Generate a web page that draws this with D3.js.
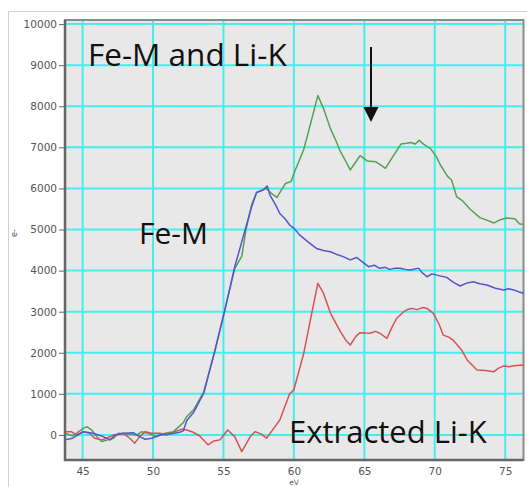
<!DOCTYPE html>
<html>
<head>
<meta charset="utf-8">
<script src="https://cdn.jsdelivr.net/npm/d3@7"></script>
<style>
	body { margin: 0; background: #fff; }
	svg { display: block; }
</style>
</head>
<body>
<script>
// spectra: [eV, counts]
const feMLiK = [
	[43.75, 40], [44.3, -25], [45.05, 160], [45.3, 200], [45.65, 120], [46.0, -40], [46.35, -160],
	[46.8, -120], [47.2, -80], [47.55, 40], [48.1, 25], [48.85, 0], [49.2, 80], [49.65, 40],
	[50.25, -40], [50.85, 40], [51.45, 80], [51.8, 190], [52.15, 300], [52.4, 450], [52.9, 620],
	[53.6, 1050], [54.4, 2050], [55.1, 3050], [55.8, 4050], [56.3, 4350], [56.6, 5000], [57.0, 5600],
	[57.35, 5900], [57.7, 5950], [58.05, 6000], [58.4, 5880], [58.8, 5780], [59.0, 5900], [59.4, 6120],
	[59.8, 6170], [60.1, 6450], [60.7, 6950], [61.2, 7600], [61.7, 8260], [62.1, 7950], [62.6, 7450],
	[63.0, 7150], [63.3, 6900], [63.7, 6650], [64.0, 6450], [64.4, 6650], [64.7, 6800], [65.2, 6670],
	[65.8, 6650], [66.2, 6560], [66.5, 6490], [67.0, 6760], [67.6, 7080], [68.0, 7100], [68.3, 7120],
	[68.6, 7080], [68.9, 7170], [69.2, 7080], [69.7, 6970], [70.1, 6780], [70.4, 6570], [70.9, 6300],
	[71.2, 6200], [71.55, 5800], [72.0, 5690], [72.5, 5500], [73.2, 5290], [73.6, 5240], [74.2, 5160],
	[74.6, 5230], [75.1, 5280], [75.7, 5260], [76.0, 5140], [76.3, 5120]
];

const feM = [
	[43.75, -120], [44.3, -80], [45.05, 80], [45.75, 40], [46.45, -40], [46.95, -120], [47.3, 0],
	[47.9, 40], [48.6, 55], [49.05, -40], [49.45, -105], [49.9, -80], [50.5, 0], [51.2, 25],
	[51.9, 65], [52.15, 100], [52.4, 350], [52.9, 560], [53.6, 1015], [54.4, 2070], [55.1, 3040],
	[55.8, 4095], [56.4, 4825], [57.0, 5555], [57.35, 5900], [57.8, 5960], [58.1, 6060], [58.3, 5840],
	[58.7, 5600], [59.0, 5390], [59.4, 5250], [59.7, 5110], [60.0, 5030], [60.4, 4870], [61.0, 4700],
	[61.6, 4540], [62.1, 4490], [62.6, 4460], [63.0, 4400], [63.5, 4340], [64.0, 4260], [64.45, 4320],
	[64.9, 4200], [65.3, 4095], [65.7, 4130], [66.1, 4055], [66.5, 4080], [66.8, 4030], [67.2, 4060],
	[67.55, 4055], [67.9, 4030], [68.25, 4015], [68.85, 4060], [69.1, 3950], [69.45, 3850], [69.8, 3920],
	[70.15, 3890], [70.5, 3860], [70.85, 3835], [71.3, 3720], [71.8, 3625], [72.3, 3700], [72.75, 3730],
	[73.2, 3680], [73.7, 3650], [74.3, 3570], [74.9, 3530], [75.25, 3560], [75.6, 3530], [76.0, 3480],
	[76.3, 3450]
];

const liK = [
	[43.75, 80], [44.2, 80], [44.55, 0], [45.05, 80], [45.5, 40], [45.85, -80], [46.35, -120],
	[46.7, -80], [47.2, 0], [47.9, 40], [48.35, -80], [48.7, -200], [49.05, -40], [49.45, 80],
	[49.9, 40], [50.5, 40], [50.95, 0], [51.55, 80], [52.05, 140], [52.4, 120], [52.85, 65],
	[53.3, -20], [53.9, -240], [54.3, -150], [54.75, -120], [55.3, 120], [55.8, -40], [56.3, -405],
	[56.9, -40], [57.25, 80], [57.7, 20], [58.05, -80], [58.4, 80], [59.0, 365], [59.7, 1000],
	[60.0, 1100], [60.7, 1990], [61.2, 2850], [61.7, 3690], [62.1, 3450], [62.6, 2960], [63.3, 2515],
	[63.7, 2300], [64.0, 2190], [64.4, 2400], [64.7, 2490], [65.1, 2480], [65.4, 2475], [65.8, 2520],
	[66.1, 2475], [66.6, 2350], [67.0, 2650], [67.3, 2840], [67.8, 3000], [68.1, 3060], [68.4, 3080],
	[68.7, 3050], [69.2, 3100], [69.5, 3070], [69.9, 2960], [70.3, 2700], [70.6, 2430], [71.0, 2380],
	[71.3, 2310], [71.9, 2070], [72.3, 1825], [73.0, 1580], [73.6, 1570], [74.2, 1540], [74.5, 1620],
	[74.9, 1680], [75.3, 1660], [75.6, 1685], [76.3, 1700]
];

const xTicks = [45, 50, 55, 60, 65, 70, 75];
const yTicks = [0, 1000, 2000, 3000, 4000, 5000, 6000, 7000, 8000, 9000, 10000];

const width = 527;
const height = 487;

const x = d3.scaleLinear().domain([43.75, 76.3]).range([65, 523.5]);
const y = d3.scaleLinear().domain([-610, 10100]).range([460, 20]);

const svg = d3.select("body").append("svg").attr("width", width).attr("height", height);

// outer frame of the screenshot
svg.append("rect")
	.attr("x", 8.5).attr("y", 11.5)
	.attr("width", width).attr("height", height)
	.attr("fill", "none").attr("stroke", "#d2d2d2");

// plot background
svg.append("rect")
	.attr("x", x.range()[0]).attr("y", y.range()[1])
	.attr("width", x.range()[1] - x.range()[0])
	.attr("height", y.range()[0] - y.range()[1])
	.attr("fill", "#e8e8e8");

// grid
svg.append("g").selectAll("line")
	.data(xTicks)
	.join("line")
	.attr("x1", (d) => x(d)).attr("x2", (d) => x(d))
	.attr("y1", y.range()[1]).attr("y2", y.range()[0])
	.attr("stroke", "#44eeee").attr("stroke-width", 2);

svg.append("g").selectAll("line")
	.data(yTicks)
	.join("line")
	.attr("x1", x.range()[0]).attr("x2", x.range()[1])
	.attr("y1", (d) => y(d)).attr("y2", (d) => y(d))
	.attr("stroke", "#44eeee").attr("stroke-width", 2);

// axes
const xAxis = svg.append("g")
	.attr("transform", `translate(0, ${y.range()[0]})`)
	.call(d3.axisBottom(x).tickValues(xTicks).tickSize(0).tickPadding(8).tickFormat(d3.format("d")));

const yAxis = svg.append("g")
	.attr("transform", `translate(${x.range()[0]}, 0)`)
	.call(d3.axisLeft(y).tickValues(yTicks).tickSize(6).tickPadding(2).tickFormat(d3.format("d")));

[xAxis, yAxis].forEach((g) => {
	g.select(".domain").remove();
	g.selectAll("text").attr("fill", "#555").style("font-family", "DejaVu Sans").style("font-size", "10.5px");
	g.selectAll("line").attr("stroke", "#666");
});

// plot border
svg.append("rect")
	.attr("x", x.range()[0]).attr("y", y.range()[1])
	.attr("width", x.range()[1] - x.range()[0])
	.attr("height", y.range()[0] - y.range()[1])
	.attr("fill", "none").attr("stroke", "#8a8a8a").attr("stroke-width", 2);

svg.append("path")
	.attr("d", `M${x.range()[0]},${y.range()[1]}V${y.range()[0]}H${x.range()[1]}`)
	.attr("fill", "none").attr("stroke", "#666").attr("stroke-width", 2.5);

// spectra
const line = d3.line().x((d) => x(d[0])).y((d) => y(d[1]));

const series = [
	{ data: feMLiK, color: "#55a055" },
	{ data: liK, color: "#d65252" },
	{ data: feM, color: "#5555d2" },
];

svg.append("g").selectAll("path")
	.data(series)
	.join("path")
	.attr("d", (d) => line(d.data))
	.attr("fill", "none")
	.attr("stroke", (d) => d.color)
	.attr("stroke-width", 1.5)
	.attr("stroke-linejoin", "round");

// annotations
const label = (txt, px, py, size) => svg.append("text")
	.attr("x", px).attr("y", py)
	.attr("fill", "#111")
	.style("font-family", "Open Sans")
	.style("font-size", `${size}px`)
	.text(txt);

label("Fe-M and Li-K", 88, 66, 31.5);
label("Fe-M", 139, 244, 30);
label("Extracted Li-K", 289, 443, 31);

svg.append("line")
	.attr("x1", 371).attr("x2", 371)
	.attr("y1", 47).attr("y2", 110)
	.attr("stroke", "#111").attr("stroke-width", 2);

svg.append("path")
	.attr("d", "M363.5,107 L378.5,107 L371,122 Z")
	.attr("fill", "#111");

// axis titles
svg.append("text")
	.attr("transform", "translate(17, 233) rotate(-90)")
	.attr("text-anchor", "middle")
	.attr("fill", "#555")
	.style("font-family", "DejaVu Sans")
	.style("font-size", "8px")
	.text("e-");

svg.append("text")
	.attr("x", 294).attr("y", 485)
	.attr("text-anchor", "middle")
	.attr("fill", "#555")
	.style("font-family", "DejaVu Sans")
	.style("font-size", "7.5px")
	.text("eV");
</script>
</body>
</html>
